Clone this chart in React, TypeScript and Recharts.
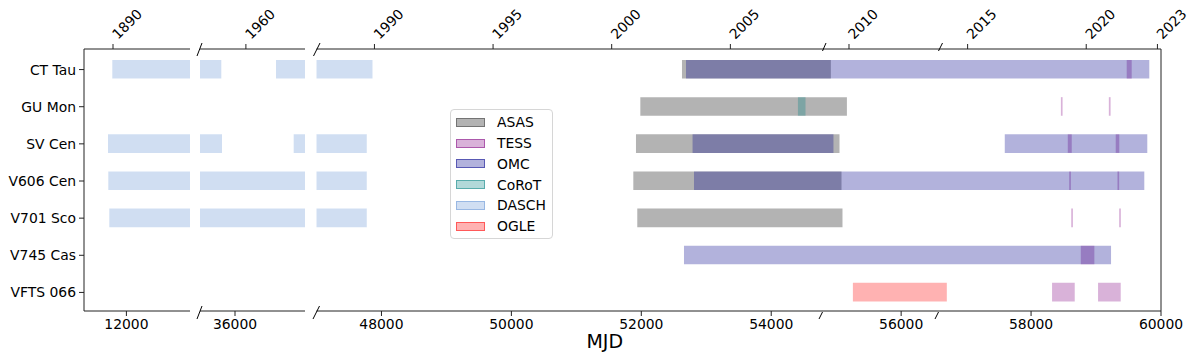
import React from "react";
import { BarChart, Bar, XAxis, YAxis, Legend, ReferenceLine } from "recharts";

const stars = ["CT Tau", "GU Mon", "SV Cen", "V606 Cen", "V701 Sco", "V745 Cas", "VFTS 066"];

// observing windows (MJD), one list per star, same order as `stars`
const asasSpans = [
  [[52626, 54918]],
  [[51985, 55165]],
  [[51918, 55051]],
  [[51877, 55082]],
  [[51938, 55097]],
  [],
  [],
];
const tessSpans = [
  [[59472, 59549]],
  [[58459, 58485], [59197, 59224]],
  [[58565, 58626], [59303, 59358]],
  [[58587, 58613], [59330, 59356]],
  [[58618, 58644], [59356, 59382]],
  [[58765, 58974]],
  [[58323, 58672], [59031, 59380]],
];
const omcSpans = [
  [[52688, 59820]],
  [],
  [[52789, 54958], [57595, 59789]],
  [[52811, 59743]],
  [],
  [[52657, 59231]],
  [],
];
const corotSpans = [[], [[54411, 54528]], [], [], [], [], []];
const daschSpans = [
  [[11335, 34826], [39514, 47862]],
  [],
  [[11132, 34885], [41030, 47774]],
  [[11146, 47774]],
  [[11193, 47774]],
  [],
  [],
];
const ogleSpans = [[], [], [], [], [], [], [[55257, 56703]]];

const mjdTicks = [12000, 36000, 48000, 50000, 52000, 54000, 56000, 58000, 60000];
const yearLabels = [1890, 1960, 1990, 1995, 2000, 2005, 2010, 2015, 2020, 2023];
const yearMjd = [11368, 36934, 47892, 49718, 51544, 53371, 55197, 57023, 58849, 59945];

const instruments = [
  { key: "asas", label: "ASAS", spans: asasSpans, fill: "rgba(128,128,128,0.6)", edge: "rgba(100,100,100,0.8)" },
  { key: "tess", label: "TESS", spans: tessSpans, fill: "rgba(128,0,128,0.3)", edge: "rgba(128,0,128,0.5)" },
  { key: "omc", label: "OMC", spans: omcSpans, fill: "rgba(0,0,139,0.3)", edge: "rgba(0,0,139,0.5)" },
  { key: "corot", label: "CoRoT", spans: corotSpans, fill: "rgba(0,128,128,0.3)", edge: "rgba(0,128,128,0.5)" },
  { key: "dasch", label: "DASCH", spans: daschSpans, fill: "rgba(98,145,212,0.3)", edge: "rgba(98,145,212,0.5)" },
  { key: "ogle", label: "OGLE", spans: ogleSpans, fill: "rgba(255,0,0,0.3)", edge: "rgba(255,0,0,0.5)" },
];

const rows = stars.map((name, i) => {
  const row: any = { name };
  instruments.forEach((inst) => {
    row[inst.key] = inst.spans[i];
  });
  return row;
});

// the three pieces of the broken axis
const segments = [
  { domain: [10000, 15000], left: 0, width: 200, ml: 0, mr: 10 },
  { domain: [33000, 42000], left: 190, width: 125, ml: 10, mr: 10 },
  { domain: [47000, 60000], left: 300, width: 900, ml: 16.5, mr: 39 },
];

const BAR = 18.6;
const FS = 13.9;

const YearTick = (props: any) => {
  const { x, payload } = props;
  const i = yearMjd.indexOf(payload.value);
  const tx = x + 5;
  const ty = 40;
  return (
    <text x={tx} y={ty} transform={`rotate(-45 ${tx} ${ty})`} fontSize={FS} fill="#000" textAnchor="start">
      {yearLabels[i]}
    </text>
  );
};

const renderLegend = () => (
  <div
    style={{
      width: 103,
      height: 130,
      boxSizing: "border-box",
      border: "1px solid #d6d6d6",
      borderRadius: 4,
      background: "rgba(255,255,255,0.85)",
      position: "relative",
      fontSize: FS,
    }}
  >
    {instruments.map((inst, i) => (
      <div
        key={inst.key}
        style={{ position: "absolute", left: 5, top: 12.2 + i * 20.8 - 8, height: 16, display: "flex", alignItems: "center" }}
      >
        <span
          style={{
            display: "inline-block",
            width: 29,
            height: 9,
            boxSizing: "border-box",
            background: inst.fill,
            border: `1px solid ${inst.edge}`,
          }}
        ></span>
        <span style={{ marginLeft: 12, lineHeight: "16px" }}>{inst.label}</span>
      </div>
    ))}
  </div>
);

const Segment = ({ seg, idx }: any) => {
  const first = idx === 0;
  const last = idx === segments.length - 1;
  const [lo, hi] = seg.domain;
  const bottom = mjdTicks.filter((t) => t >= lo && t <= hi);
  const top = yearMjd.filter((t) => t >= lo && t <= hi);
  const bars: any[] = [];
  instruments.forEach((inst) => {
    const n = Math.max(...inst.spans.map((s) => s.length));
    for (let k = 0; k < n; k++) {
      bars.push(
        <Bar
          key={`${inst.key}-${k}`}
          dataKey={(d: any) => (d[inst.key][k] ? d[inst.key][k] : null)}
          fill={inst.fill}
          barSize={BAR}
          isAnimationActive={false}
          legendType="none"
        />
      );
    }
  });
  return (
    <div style={{ position: "absolute", left: seg.left, top: 0 }}>
      <BarChart
        width={seg.width}
        height={359}
        data={rows}
        layout="vertical"
        margin={{ top: 0, bottom: 0, left: seg.ml, right: seg.mr }}
        barGap={-BAR}
        barCategoryGap={0}
      >
        <XAxis
          type="number"
          domain={seg.domain}
          allowDataOverflow
          ticks={bottom}
          interval={0}
          height={48}
          tickSize={5}
          tickMargin={3}
          stroke="#222"
          tick={{ fill: "#000", fontSize: FS }}
          label={last ? { value: "MJD", position: "insideBottom", offset: 11, dx: -134, fontSize: 19, fill: "#000" } : undefined}
        />
        <XAxis
          xAxisId="top"
          orientation="top"
          type="number"
          domain={seg.domain}
          allowDataOverflow
          ticks={top}
          interval={0}
          height={49}
          tickSize={5}
          stroke="#222"
          tick={<YearTick />}
        />
        <YAxis
          type="category"
          dataKey="name"
          hide={!first}
          width={84}
          padding={{ top: 2, bottom: 0 }}
          tickSize={5}
          tickMargin={3}
          stroke="#222"
          tick={{ fill: "#000", fontSize: FS }}
        />
        {bars}
        {last && <ReferenceLine x={60000} stroke="#222" />}
        {last && (
          <Legend
            content={renderLegend}
            layout="vertical"
            align="center"
            verticalAlign="middle"
            wrapperStyle={{ left: 150, top: 109, width: 103, height: 130 }}
          />
        )}
      </BarChart>
    </div>
  );
};

// little slashes marking the axis breaks
const breakMarks = [
  [197, 56, 202, 43],
  [313.5, 56, 320, 43],
  [197, 319, 202, 306],
  [313, 319, 319.5, 306],
  [822.5, 51, 826, 43],
  [938.5, 51, 942.5, 43],
  [819, 319, 822.5, 312],
  [935, 319, 938.5, 312],
];

export default function App() {
  return (
    <div
      style={{
        position: "absolute",
        left: 0,
        top: 0,
        width: 1200,
        height: 359,
        background: "#fff",
        fontFamily: "'DejaVu Sans', sans-serif",
      }}
    >
      {segments.map((seg, i) => (
        <Segment key={i} seg={seg} idx={i} />
      ))}
      <svg width={1200} height={359} style={{ position: "absolute", left: 0, top: 0, pointerEvents: "none" }}>
        {breakMarks.map((m, i) => (
          <line key={i} x1={m[0]} y1={m[1]} x2={m[2]} y2={m[3]} stroke="#000" strokeWidth={1} />
        ))}
      </svg>
    </div>
  );
}
